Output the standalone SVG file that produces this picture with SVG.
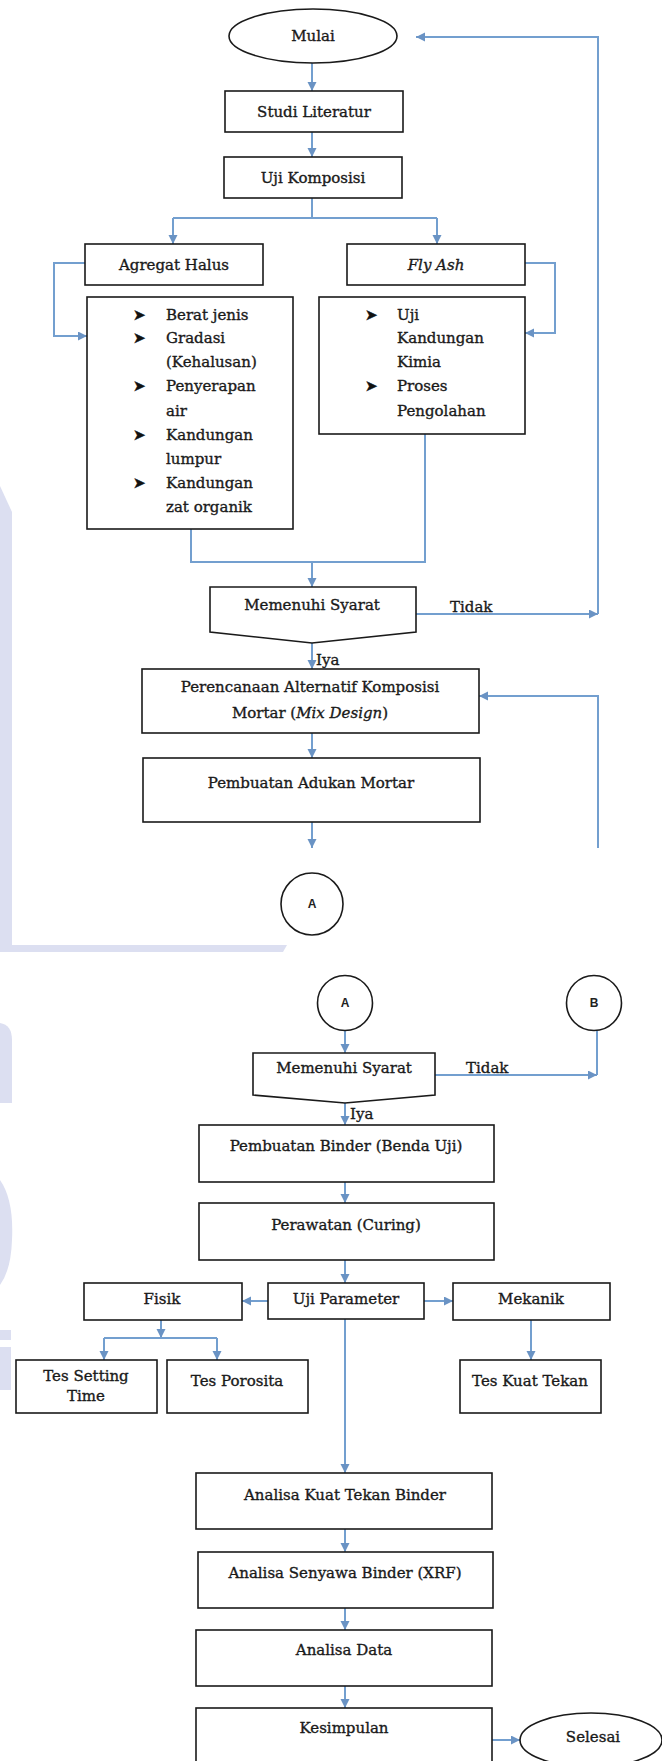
<svg xmlns="http://www.w3.org/2000/svg" width="662" height="1761" viewBox="0 0 662 1761">
<defs>
<style>
.bx{fill:#fff;stroke:#1a1a1a;stroke-width:1.6}
.t{font-family:"DejaVu Serif","Liberation Serif",serif;font-size:15px;fill:#1a1a1a;stroke:#1a1a1a;stroke-width:0.35;text-anchor:middle}
.tl{font-family:"DejaVu Serif","Liberation Serif",serif;font-size:15px;fill:#1a1a1a;stroke:#1a1a1a;stroke-width:0.35}
.bul{font-family:"DejaVu Sans",sans-serif;font-size:15px;fill:#111;stroke:#111;stroke-width:0.4}
.cl{font-family:"Liberation Sans","DejaVu Sans",sans-serif;font-size:12px;font-weight:bold;fill:#222;text-anchor:middle}
.c{fill:none;stroke:#739fcf;stroke-width:2}
.ca{fill:none;stroke:#739fcf;stroke-width:2;marker-end:url(#ah)}
.wm{fill:#dcdff1}
</style>
<marker id="ah" markerUnits="userSpaceOnUse" markerWidth="10" markerHeight="10" refX="9" refY="4.5" orient="auto">
<path d="M0,0 L9,4.5 L0,9 Z" fill="#6a93c4"/>
</marker>
</defs>
<rect width="662" height="1761" fill="#fff"/>
<g id="watermark">
<path class="wm" d="M0,486 L12,512 L12,945 L0,945 Z"/>
<path class="wm" d="M0,945 L287,945 L283,952 L0,952 Z"/>
<path class="wm" d="M0,1023 Q12,1025 12,1040 L12,1103 L0,1103 Z"/>
<path class="wm" d="M0,1180 Q14,1200 12,1240 Q11,1270 0,1285 Z"/>
<rect class="wm" x="0" y="1330" width="11" height="10"/>
<rect class="wm" x="0" y="1347" width="11" height="43"/>
</g>
<g id="connectors">
<line class="ca" x1="312" y1="63" x2="312" y2="91"/>
<line class="ca" x1="312" y1="132" x2="312" y2="157"/>
<polyline class="c" points="312,198 312,218"/>
<polyline class="c" points="173,218 437,218"/>
<line class="ca" x1="173" y1="218" x2="173" y2="244"/>
<line class="ca" x1="437" y1="218" x2="437" y2="244"/>
<polyline class="ca" points="85,263 54,263 54,336 87,336"/>
<polyline class="ca" points="525,263 555,263 555,333 525,333"/>
<polyline class="c" points="191,529 191,562 425,562 425,434"/>
<line class="ca" x1="312" y1="562" x2="312" y2="587"/>
<line class="ca" x1="416" y1="614" x2="598" y2="614"/>
<polyline class="ca" points="598,614 598,37 416,37"/>
<line class="ca" x1="312" y1="643" x2="312" y2="669"/>
<polyline class="ca" points="598,848 598,696 479,696"/>
<line class="ca" x1="312" y1="733" x2="312" y2="758"/>
<line class="ca" x1="312" y1="822" x2="312" y2="848"/>
<line class="ca" x1="345" y1="1031" x2="345" y2="1053"/>
<line class="c" x1="597" y1="1031" x2="597" y2="1075"/>
<line class="ca" x1="435" y1="1075" x2="597" y2="1075"/>
<line class="ca" x1="345" y1="1103" x2="345" y2="1125"/>
<line class="ca" x1="345" y1="1182" x2="345" y2="1203"/>
<line class="ca" x1="345" y1="1260" x2="345" y2="1283"/>
<line class="ca" x1="268" y1="1301" x2="242" y2="1301"/>
<line class="ca" x1="424" y1="1301" x2="453" y2="1301"/>
<line class="ca" x1="161" y1="1320" x2="161" y2="1338"/>
<polyline class="c" points="104,1338 217,1338"/>
<line class="ca" x1="104" y1="1338" x2="104" y2="1360"/>
<line class="ca" x1="217" y1="1338" x2="217" y2="1360"/>
<line class="ca" x1="531" y1="1320" x2="531" y2="1360"/>
<line class="ca" x1="345" y1="1319" x2="345" y2="1473"/>
<line class="ca" x1="345" y1="1529" x2="345" y2="1552"/>
<line class="ca" x1="345" y1="1608" x2="345" y2="1630"/>
<line class="ca" x1="345" y1="1686" x2="345" y2="1708"/>
<line class="ca" x1="492" y1="1740" x2="520" y2="1740"/>
</g>
<g id="mulai"><ellipse class="bx" cx="313" cy="36" rx="84" ry="27"/><text class="t" x="313" y="41">Mulai</text></g>
<g id="studi"><rect class="bx" x="225" y="91" width="178" height="41"/><text class="t" x="314" y="117">Studi Literatur</text></g>
<g id="ujikomp"><rect class="bx" x="224" y="157" width="178" height="41"/><text class="t" x="313" y="183">Uji Komposisi</text></g>
<g id="agregat"><rect class="bx" x="85" y="244" width="178" height="41"/><text class="t" x="174" y="270">Agregat Halus</text></g>
<g id="flyash"><rect class="bx" x="347" y="244" width="178" height="41"/><text class="t" x="436" y="270" font-style="italic">Fly Ash</text></g>
<g id="listagregat"><rect class="bx" x="87" y="297" width="206" height="232"/>
<text class="bul" x="133" y="320">➤</text><text class="tl" x="166" y="320">Berat jenis</text>
<text class="bul" x="133" y="343">➤</text><text class="tl" x="166" y="343">Gradasi</text>
<text class="tl" x="166" y="367">(Kehalusan)</text>
<text class="bul" x="133" y="391">➤</text><text class="tl" x="166" y="391">Penyerapan</text>
<text class="tl" x="166" y="416">air</text>
<text class="bul" x="133" y="440">➤</text><text class="tl" x="166" y="440">Kandungan</text>
<text class="tl" x="166" y="464">lumpur</text>
<text class="bul" x="133" y="488">➤</text><text class="tl" x="166" y="488">Kandungan</text>
<text class="tl" x="166" y="512">zat organik</text>
</g>
<g id="listflyash"><rect class="bx" x="319" y="297" width="206" height="137"/>
<text class="bul" x="365" y="320">➤</text><text class="tl" x="397" y="320">Uji</text>
<text class="tl" x="397" y="343">Kandungan</text>
<text class="tl" x="397" y="367">Kimia</text>
<text class="bul" x="365" y="391">➤</text><text class="tl" x="397" y="391">Proses</text>
<text class="tl" x="397" y="416">Pengolahan</text>
</g>
<g id="syarat1"><path class="bx" d="M210,587 L416,587 L416,632 L312,643 L210,632 Z"/><text class="t" x="312" y="610">Memenuhi Syarat</text></g>
<text class="tl" x="450" y="612">Tidak</text>
<text class="tl" x="316" y="665">Iya</text>
<g id="perencanaan"><rect class="bx" x="142" y="669" width="337" height="64"/>
<text class="t" x="310" y="692">Perencanaan Alternatif Komposisi</text>
<text class="t" x="310" y="718">Mortar (<tspan font-style="italic">Mix Design</tspan>)</text></g>
<g id="adukan"><rect class="bx" x="143" y="758" width="337" height="64"/><text class="t" x="311" y="788">Pembuatan Adukan Mortar</text></g>
<g id="a1"><circle class="bx" cx="312" cy="904" r="31"/><text class="cl" x="312" y="908">A</text></g>
<g id="a2"><circle class="bx" cx="345" cy="1003" r="27.5"/><text class="cl" x="345" y="1007">A</text></g>
<g id="b"><circle class="bx" cx="594" cy="1003" r="27.5"/><text class="cl" x="594" y="1007">B</text></g>
<g id="syarat2"><path class="bx" d="M253,1053 L435,1053 L435,1095 L345,1103 L253,1095 Z"/><text class="t" x="344" y="1073">Memenuhi Syarat</text></g>
<text class="tl" x="466" y="1073">Tidak</text>
<text class="tl" x="350" y="1119">Iya</text>
<g id="binder"><rect class="bx" x="199" y="1125" width="295" height="57"/><text class="t" x="346" y="1151">Pembuatan Binder (Benda Uji)</text></g>
<g id="perawatan"><rect class="bx" x="199" y="1203" width="295" height="57"/><text class="t" x="346" y="1230">Perawatan (Curing)</text></g>
<g id="ujiparam"><rect class="bx" x="268" y="1283" width="156" height="36"/><text class="t" x="346" y="1304">Uji Parameter</text></g>
<g id="fisik"><rect class="bx" x="84" y="1283" width="158" height="37"/><text class="t" x="162" y="1304">Fisik</text></g>
<g id="mekanik"><rect class="bx" x="453" y="1283" width="157" height="37"/><text class="t" x="531" y="1304">Mekanik</text></g>
<g id="setting"><rect class="bx" x="16" y="1360" width="141" height="53"/><text class="t" x="86" y="1381">Tes Setting</text><text class="t" x="86" y="1401">Time</text></g>
<g id="porosita"><rect class="bx" x="167" y="1360" width="141" height="53"/><text class="t" x="237" y="1386">Tes Porosita</text></g>
<g id="kuattekan"><rect class="bx" x="460" y="1360" width="141" height="53"/><text class="t" x="530" y="1386">Tes Kuat Tekan</text></g>
<g id="analisakuat"><rect class="bx" x="196" y="1473" width="296" height="56"/><text class="t" x="345" y="1500">Analisa Kuat Tekan Binder</text></g>
<g id="analisasenyawa"><rect class="bx" x="198" y="1552" width="295" height="56"/><text class="t" x="345" y="1578">Analisa Senyawa Binder (XRF)</text></g>
<g id="analisadata"><rect class="bx" x="196" y="1630" width="296" height="56"/><text class="t" x="344" y="1655">Analisa Data</text></g>
<g id="kesimpulan"><rect class="bx" x="196" y="1708" width="296" height="70"/><text class="t" x="344" y="1733">Kesimpulan</text></g>
<g id="selesai"><ellipse class="bx" cx="591" cy="1740" rx="71" ry="27"/><text class="t" x="593" y="1742">Selesai</text></g>
</svg>
